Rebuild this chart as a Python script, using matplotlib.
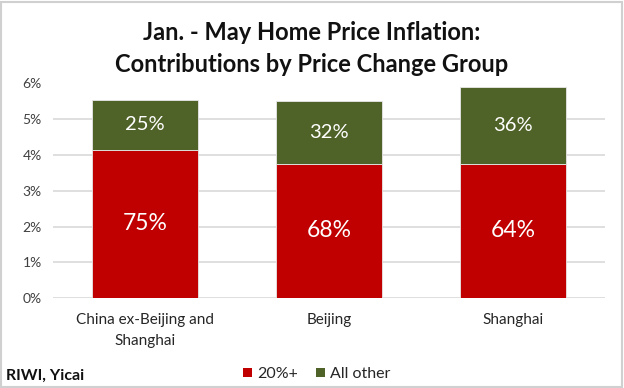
import matplotlib
matplotlib.use("Agg")
import matplotlib.pyplot as plt
from matplotlib.patches import Rectangle, Patch
from matplotlib.ticker import FuncFormatter

categories = ["China ex-Beijing and\nShanghai", "Beijing", "Shanghai"]
group_20plus = [0.0415, 0.0375, 0.0375]
group_other = [0.0140, 0.0175, 0.0215]
share_20plus = ["75%", "68%", "64%"]
share_other = ["25%", "32%", "36%"]
series_names = ["20%+", "All other"]
y_ticks = [0, 0.01, 0.02, 0.03, 0.04, 0.05, 0.06]

RED = "#C00000"
GREEN = "#4F6228"
GRID = "#D9D9D9"
FONT = ["Lato", "DejaVu Sans"]
plt.rcParams["font.family"] = FONT

W, H = 624, 388
fig = plt.figure(figsize=(W / 100, H / 100), dpi=100)
ax = fig.add_axes([53 / W, 1 - 298 / H, (605 - 53) / W, (298 - 83.5) / H])

x = list(range(len(categories)))
bw = 0.575
ax.bar(x, group_20plus, width=bw, color=RED, edgecolor="#E8E8E8", linewidth=0.6, zorder=3, label=series_names[0])
ax.bar(x, group_other, width=bw, bottom=group_20plus, color=GREEN, edgecolor="#E8E8E8", linewidth=0.6, zorder=3, label=series_names[1])

for i in x:
    ax.text(i, group_20plus[i] / 2, share_20plus[i], ha="center", va="center",
            color="white", fontsize=16.5, zorder=4)
    ax.text(i, group_20plus[i] + group_other[i] / 2, share_other[i], ha="center", va="center",
            color="white", fontsize=14.5, zorder=4)

ax.set_xlim(-0.5, len(categories) - 0.5)
ax.set_ylim(0, 0.06)
ax.set_yticks(y_ticks)
ax.yaxis.set_major_formatter(FuncFormatter(lambda v, p: f"{v*100:.0f}%"))
ax.set_xticks(x)
ax.set_xticklabels(categories, fontsize=11, color="#262626", linespacing=1.65)
ax.tick_params(axis="y", length=0, pad=8, labelsize=10, labelcolor="#404040")
ax.tick_params(axis="x", length=0, pad=11)
ax.grid(axis="y", color=GRID, linewidth=1.2, zorder=0)
for s in ax.spines.values():
    s.set_visible(False)

fig.text(0.5, 1 - 40 / H, "Jan. - May Home Price Inflation:", ha="center", va="baseline",
         fontsize=17, fontweight="bold", color="#111111")
fig.text(0.5, 1 - 72 / H, "Contributions by Price Change Group", ha="center", va="baseline",
         fontsize=17, fontweight="bold", color="#111111")

fig.text(6 / W, 1 - 380 / H, "RIWI, Yicai", ha="left", va="baseline", fontsize=11.5,
         fontweight="bold", color="#111111")

handles = [Patch(facecolor=RED), Patch(facecolor=GREEN)]
fig.legend(handles, series_names, loc="center", bbox_to_anchor=(317 / W, 1 - 374 / H),
           ncol=2, frameon=False, fontsize=11.5, handlelength=0.55, handleheight=0.55,
           handletextpad=0.35, columnspacing=1.1, labelcolor="#262626")

fig.patches.append(Rectangle((1 / W, 1 / H), (W - 3) / W, (H - 3) / H, transform=fig.transFigure,
                             fill=False, edgecolor="#D0D0D0", linewidth=1.5))

fig.savefig("out.png", dpi=100)
